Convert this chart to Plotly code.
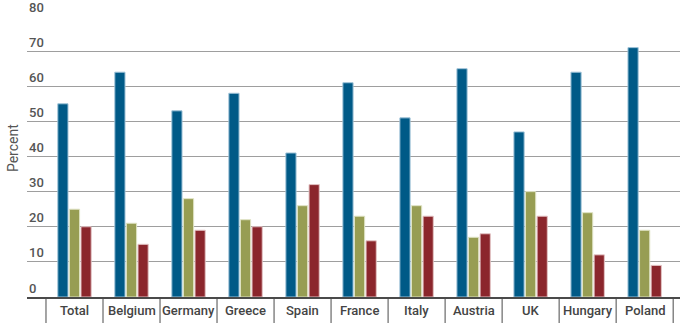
import plotly.graph_objects as go

countries = ["Total", "Belgium", "Germany", "Greece", "Spain", "France",
             "Italy", "Austria", "UK", "Hungary", "Poland"]
series_a = [55, 64, 53, 58, 41, 61, 51, 65, 47, 64, 71]
series_b = [25, 21, 28, 22, 26, 23, 26, 17, 30, 24, 19]
series_c = [20, 15, 19, 20, 32, 16, 23, 18, 23, 12, 9]
y_ticks = [0, 10, 20, 30, 40, 50, 60, 70, 80]

fill = ["#005a87", "#979d53", "#8b262c"]
edge = ["#9fc3d8", "#dfe3c4", "#e3c3c4"]

fig = go.Figure()
for vals, c, e in zip([series_a, series_b, series_c], fill, edge):
    fig.add_trace(go.Bar(
        x=list(range(len(countries))), y=vals,
        marker=dict(color=c, line=dict(color=e, width=1)),
        showlegend=False, hoverinfo="skip",
    ))

# separators between the category labels under the axis
for k in range(len(countries) + 1):
    fig.add_shape(type="line", xref="x", yref="paper",
                  x0=k - 0.5, x1=k - 0.5, y0=0, y1=-0.12,
                  line=dict(color="#4a4a4a", width=1))

# category labels
for i, name in enumerate(countries):
    fig.add_annotation(x=i, xref="x", y=0, yref="paper", yshift=-13,
                       text=name, showarrow=False,
                       font=dict(family="Roboto", size=13, color="#444444", weight=500),
                       xanchor="center", yanchor="middle")

# value ticks sitting just above each gridline
for t in y_ticks:
    fig.add_annotation(x=0, xref="paper", y=t, yref="y", yshift=9,
                       text=str(t), showarrow=False,
                       font=dict(family="Roboto", size=13, color="#555555", weight=500),
                       xanchor="left", yanchor="middle")

fig.add_annotation(x=0, xref="paper", xshift=-14, y=0.53, yref="paper",
                   text="Percent", textangle=-90, showarrow=False,
                   font=dict(family="Roboto", size=14, color="#555555"),
                   xanchor="center", yanchor="middle")

fig.update_layout(
    width=680, height=323,
    margin=dict(l=27, r=0, t=16, b=26),
    paper_bgcolor="white", plot_bgcolor="white",
    barmode="group", bargap=0.39, bargroupgap=0.12,
    xaxis=dict(range=[-0.833, 10.62], showticklabels=False, showgrid=False,
               zeroline=False, showline=True, linecolor="#4a4a4a", linewidth=2,
               ticks=""),
    yaxis=dict(range=[0, 80], tickvals=y_ticks, showticklabels=False,
               showgrid=True, gridcolor="#9e9e9e", gridwidth=1, zeroline=False,
               ticks=""),
)

fig.write_html("out.html")
